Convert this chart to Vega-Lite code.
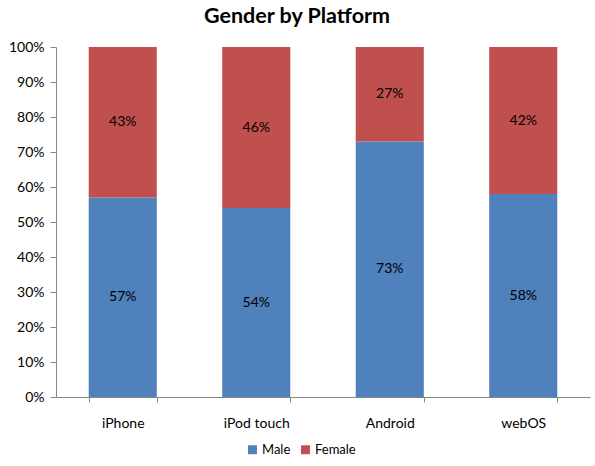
{
  "$schema": "https://vega.github.io/schema/vega-lite/v6.json",
  "width": 534,
  "height": 350,
  "autosize": "none",
  "padding": {"left": 56, "top": 47, "right": 5, "bottom": 69},
  "background": "white",
  "title": {
    "text": "Gender by Platform",
    "font": "Lato",
    "fontSize": 21.5,
    "fontWeight": "bold",
    "color": "black",
    "offset": 13,
    "dx": -26
  },
  "config": {
    "view": {"stroke": null},
    "font": "Lato",
    "axisY": {
      "title": null,
      "grid": false,
      "labelOverlap": false,
      "labelFont": "Lato",
      "labelFontSize": 14,
      "labelColor": "black",
      "labelPadding": 6,
      "tickSize": 6,
      "tickColor": "#868686",
      "domainColor": "#868686"
    }
  },
  "data": {
    "values": [
      {"platform": "iPhone", "gender": "Male", "share": 0.57},
      {"platform": "iPhone", "gender": "Female", "share": 0.43},
      {"platform": "iPod touch", "gender": "Male", "share": 0.54},
      {"platform": "iPod touch", "gender": "Female", "share": 0.46},
      {"platform": "Android", "gender": "Male", "share": 0.73},
      {"platform": "Android", "gender": "Female", "share": 0.27},
      {"platform": "webOS", "gender": "Male", "share": 0.58},
      {"platform": "webOS", "gender": "Female", "share": 0.42}
    ]
  },
  "transform": [
    {
      "stack": "share",
      "groupby": ["platform"],
      "sort": [{"field": "gender", "order": "descending"}],
      "as": ["s0", "s1"]
    },
    {"calculate": "(datum.s0 + datum.s1) / 2", "as": "mid"}
  ],
  "encoding": {
    "x": {
      "field": "platform",
      "type": "nominal",
      "sort": ["iPhone", "iPod touch", "Android", "webOS"],
      "scale": {"paddingInner": 0.49, "paddingOuter": 0.245},
      "axis": {
        "title": null,
        "labelAngle": 0,
        "labelFont": "Lato",
        "labelFontSize": 14,
        "labelColor": "black",
        "labelPadding": 14,
        "tickBand": "extent",
        "tickSize": 5,
        "tickColor": "#868686",
        "domainColor": "#868686"
      }
    }
  },
  "layer": [
    {
      "mark": {"type": "bar"},
      "encoding": {
        "y": {
          "field": "s0",
          "type": "quantitative",
          "scale": {"domain": [0, 1]},
          "axis": {
            "format": ".0%",
            "values": [0, 0.1, 0.2, 0.3, 0.4, 0.5, 0.6, 0.7, 0.8, 0.9, 1]
          }
        },
        "y2": {"field": "s1"},
        "color": {
          "field": "gender",
          "type": "nominal",
          "scale": {"domain": ["Male", "Female"], "range": ["#4F81BD", "#C0504D"]},
          "legend": {
            "title": null,
            "orient": "none",
            "direction": "horizontal",
            "legendX": 190,
            "legendY": 396,
            "symbolType": "square",
            "symbolSize": 80,
            "symbolStrokeWidth": 0,
            "labelFont": "Lato",
            "labelFontSize": 13,
            "labelColor": "black",
            "columnPadding": 8,
            "labelOffset": 3
          }
        }
      }
    },
    {
      "mark": {"type": "text", "font": "Lato", "fontSize": 14, "color": "black"},
      "encoding": {
        "y": {
          "field": "mid",
          "type": "quantitative",
          "axis": {
            "format": ".0%",
            "values": [0, 0.1, 0.2, 0.3, 0.4, 0.5, 0.6, 0.7, 0.8, 0.9, 1]
          }
        },
        "text": {"field": "share", "type": "quantitative", "format": ".0%"}
      }
    }
  ]
}
